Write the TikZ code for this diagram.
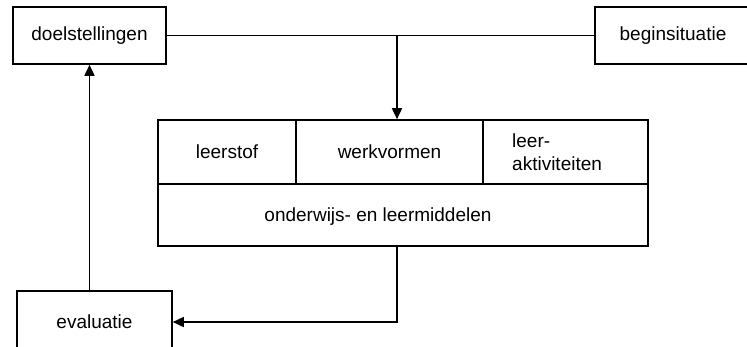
\documentclass[tikz,border=0pt]{standalone}
\usepackage{fontspec}
\setmainfont{Liberation Sans}
\usetikzlibrary{arrows.meta}

\tikzset{
    blok/.style={draw, line width=1.6pt, inner sep=0pt, font=\fontsize{19}{23}\selectfont},
    pijl/.style={line width=1.6pt, -{Triangle[length=11pt,width=10pt]}}
}

\begin{document}
\begin{tikzpicture}[x=1pt, y=-1pt]
        \path[use as bounding box, clip] (0, 0) rectangle (747, 346);
        % bovenste rij
        \node[blok, minimum width=153pt, minimum height=57pt] (doel) at (89.5, 35.5) {doelstellingen};
        \node[blok, minimum width=156pt, minimum height=57pt] (begin) at (673, 35.5) {beginsituatie};
        % het grote blok
        \node[blok, minimum width=138pt, minimum height=64pt] (leerstof) at (227, 152) {leerstof};
        \node[blok, minimum width=187pt, minimum height=64pt] (werkvormen) at (389.5, 152) {werkvormen};
        \node[blok, minimum width=165pt, minimum height=64pt] (aktiviteiten) at (565.5, 152) {};
        \node[font=\fontsize{19}{23}\selectfont, align=left, anchor=west, inner sep=0pt] (aktiviteitentekst) at (512, 152) {leer-\\aktiviteiten};
        \node[blok, minimum width=490pt, minimum height=62pt] (middelen) at (403, 215) {};
        \node[font=\fontsize{19}{23}\selectfont, inner sep=0pt] (middelentekst) at (378, 217) {onderwijs- en leermiddelen};
        % onderaan
        \node[blok, minimum width=155pt, minimum height=62pt] (evaluatie) at (94.5, 322) {evaluatie};
        % verbindingen
        \coordinate (splits) at (397, 36);
        \draw[line width=1.6pt] (doel.east) -- (begin.west);
        \draw[pijl] (splits) -- (splits |- werkvormen.north);
        \draw[pijl] (middelen.south -| splits) |- (evaluatie.east);
        \draw[pijl] (evaluatie.north -| doel.south) -- (doel.south);
    \end{tikzpicture}
\end{document}
